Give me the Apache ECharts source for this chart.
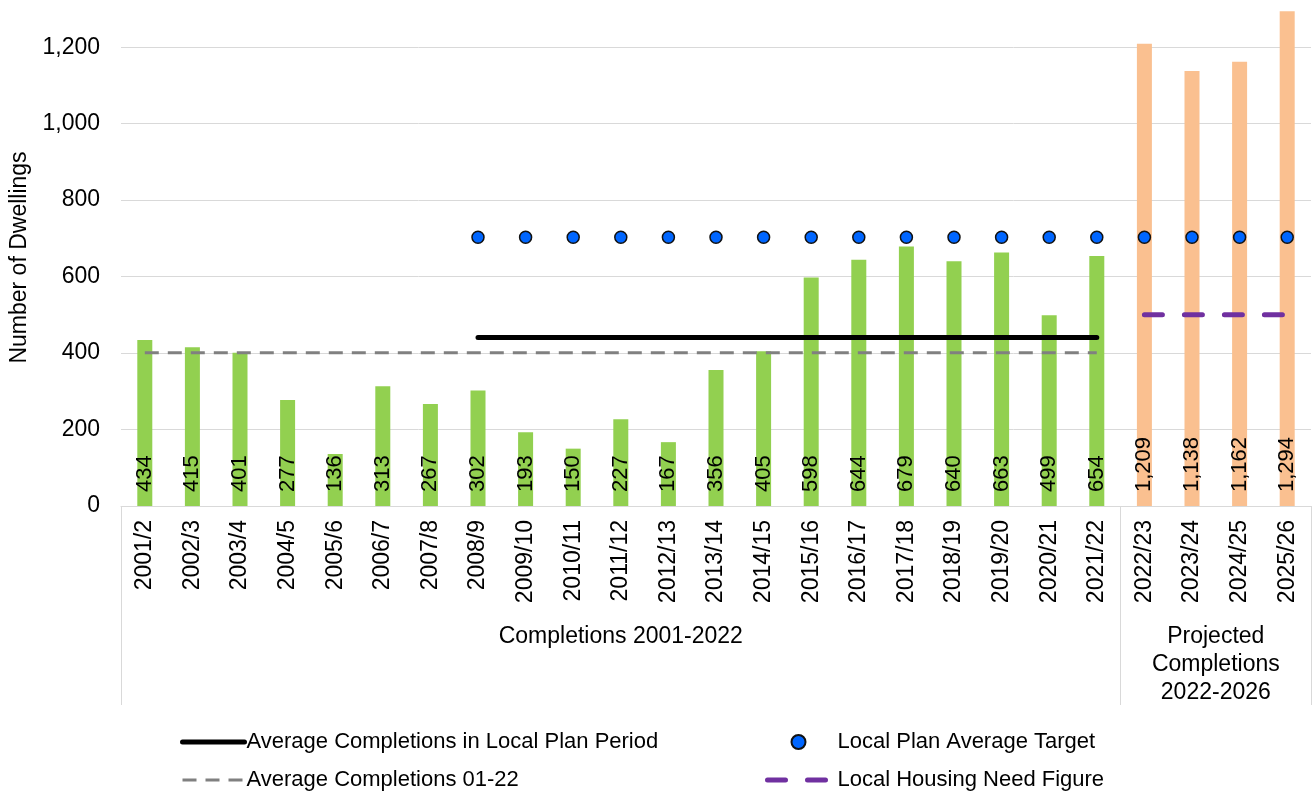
<!DOCTYPE html>
<html>
<head>
<meta charset="utf-8">
<script src="https://cdn.jsdelivr.net/npm/echarts@6/dist/echarts.min.js"></script>
<style>
  html, body { margin: 0; padding: 0; background: #fff; }
  #chart { width: 1315px; height: 795px; }
</style>
</head>
<body>
<div id="chart"></div>
<script>
// 数据
const years = ['2001/2', '2002/3', '2003/4', '2004/5', '2005/6', '2006/7', '2007/8', '2008/9',
    '2009/10', '2010/11', '2011/12', '2012/13', '2013/14', '2014/15', '2015/16', '2016/17',
    '2017/18', '2018/19', '2019/20', '2020/21', '2021/22', '2022/23', '2023/24', '2024/25', '2025/26'];

const completions = [434, 415, 401, 277, 136, 313, 267, 302, 193, 150, 227, 167, 356, 405,
    598, 644, 679, 640, 663, 499, 654, null, null, null, null];
const projected = [null, null, null, null, null, null, null, null, null, null, null, null, null,
    null, null, null, null, null, null, null, null, 1209, 1138, 1162, 1294];

const avgPlanPeriod = [null, null, null, null, null, null, null, 441, 441, 441, 441, 441, 441,
    441, 441, 441, 441, 441, 441, 441, 441, null, null, null, null];
const avgAll = [401, 401, 401, 401, 401, 401, 401, 401, 401, 401, 401, 401, 401, 401,
    401, 401, 401, 401, 401, 401, 401, null, null, null, null];
const planTarget = ['-', '-', '-', '-', '-', '-', '-', 703, 703, 703, 703, 703, 703, 703,
    703, 703, 703, 703, 703, 703, 703, 703, 703, 703, 703];
const housingNeed = [null, null, null, null, null, null, null, null, null, null, null, null, null,
    null, null, null, null, null, null, null, null, 500, 500, 500, 500];

const groups = [
    { name: 'Completions 2001-2022', from: '2001/2', to: '2021/22' },
    { name: 'Projected\nCompletions\n2022-2026', from: '2022/23', to: '2025/26' }
];

const FONT = '"Liberation Sans", Arial, sans-serif';
const fmt = v => Number(v).toLocaleString('en-US');

function initChart() {
    const chart = echarts.init(document.getElementById('chart'));

    const barLabel = {
        show: true,
        position: 'insideBottom',
        distance: 14,
        rotate: 90,
        align: 'left',
        verticalAlign: 'middle',
        color: '#000',
        fontFamily: FONT,
        fontSize: 22,
        formatter: p => fmt(p.value)
    };

    // 线条样式（系列与图例共用）
    const blackLine = { color: '#000', width: 5, cap: 'round' };
    const greyDash = { color: '#808080', width: 3, type: [14, 9] };
    const purpleDash = { color: '#7030A0', width: 5, type: [18, 22], cap: 'round' };

    // 图例中线条不显示圆点
    const noDot = { color: 'rgba(0,0,0,0)', borderColor: 'rgba(0,0,0,0)', borderWidth: 0 };
    const legendText = { color: '#000', fontFamily: FONT, fontSize: 22, lineHeight: 24 };

    const option = {
        animation: false,
        textStyle: { fontFamily: FONT },
        grid: { left: 121, right: 4, top: 9, bottom: 289, containLabel: false },
        xAxis: [{
            type: 'category',
            data: years,
            axisLine: { lineStyle: { color: '#d9d9d9', width: 1 } },
            axisTick: { show: false },
            axisLabel: {
                interval: 0,
                rotate: 90,
                margin: 14,
                color: '#000',
                fontFamily: FONT,
                fontSize: 23
            }
        }, {
            // 分组边框
            type: 'category',
            data: years,
            position: 'bottom',
            axisLine: { show: false },
            axisLabel: { show: false },
            axisTick: {
                show: true,
                length: 199,
                interval: (i) => i === 0 || i === 21,
                lineStyle: { color: '#d9d9d9', width: 1 }
            }
        }],
        yAxis: {
            type: 'value',
            min: 0,
            max: 1300,
            interval: 200,
            name: 'Number of Dwellings',
            nameLocation: 'middle',
            nameGap: 90,
            nameTextStyle: { color: '#000', fontFamily: FONT, fontSize: 23 },
            axisLine: { show: false },
            axisTick: { show: false },
            axisLabel: {
                margin: 21,
                color: '#000',
                fontFamily: FONT,
                fontSize: 23,
                showMaxLabel: false,
                formatter: v => fmt(v)
            },
            splitLine: { showMaxLine: false, lineStyle: { color: '#d9d9d9', width: 1 } }
        },
        legend: [{
            left: 180,
            top: 730,
            padding: 0,
            height: 70,
            orient: 'vertical',
            itemWidth: 62,
            itemHeight: 14,
            itemGap: 14,
            textStyle: Object.assign({ padding: [0, 0, 0, -3] }, legendText),
            data: [
                { name: 'Average Completions in Local Plan Period', itemStyle: noDot, lineStyle: blackLine },
                { name: 'Average Completions 01-22', itemStyle: noDot, lineStyle: greyDash }
            ]
        }, {
            left: 765,
            top: 730,
            padding: 0,
            height: 70,
            orient: 'vertical',
            itemWidth: 62,
            itemHeight: 14,
            itemGap: 14,
            textStyle: Object.assign({ padding: [0, 0, 0, 3] }, legendText),
            data: [
                { name: 'Local Plan Average Target', icon: 'circle' },
                { name: 'Local Housing Need Figure', itemStyle: noDot, lineStyle: purpleDash }
            ]
        }],
        series: [{
            name: 'Completions',
            type: 'bar',
            stack: 'bars',
            barWidth: 15,
            data: completions,
            itemStyle: { color: '#92D050' },
            label: barLabel
        }, {
            name: 'Projected Completions',
            type: 'bar',
            stack: 'bars',
            barWidth: 15,
            data: projected,
            itemStyle: { color: '#FAC090' },
            label: barLabel
        }, {
            name: 'Average Completions 01-22',
            type: 'line',
            data: avgAll,
            symbol: 'none',
            lineStyle: greyDash,
            itemStyle: { color: '#808080' },
            z: 3
        }, {
            name: 'Average Completions in Local Plan Period',
            type: 'line',
            data: avgPlanPeriod,
            symbol: 'none',
            lineStyle: blackLine,
            itemStyle: { color: '#000' },
            z: 4
        }, {
            name: 'Local Plan Average Target',
            type: 'scatter',
            data: planTarget,
            symbol: 'circle',
            symbolSize: 12,
            itemStyle: { color: '#0066FF', borderColor: '#111', borderWidth: 1.5, opacity: 1 },
            z: 5
        }, {
            name: 'Local Housing Need Figure',
            type: 'line',
            data: housingNeed,
            symbol: 'none',
            lineStyle: purpleDash,
            itemStyle: { color: '#7030A0' },
            z: 4
        }]
    };
    chart.setOption(option);

    // 分组标签
    const graphics = groups.map(g => {
        const x1 = chart.convertToPixel({ xAxisIndex: 0 }, g.from);
        const x2 = chart.convertToPixel({ xAxisIndex: 0 }, g.to);
        const lines = g.name.split('\n').length;
        return {
            type: 'text',
            x: (x1 + x2) / 2,
            y: 637 + (lines - 1) * 14,
            style: {
                text: g.name,
                align: 'center',
                verticalAlign: 'middle',
                fontFamily: FONT,
                fontSize: 23,
                lineHeight: 28,
                fill: '#000'
            }
        };
    });
    chart.setOption({ graphic: graphics });

    window.addEventListener('resize', function() {
        chart.resize();
    });
}

document.addEventListener('DOMContentLoaded', initChart);
</script>
</body>
</html>
